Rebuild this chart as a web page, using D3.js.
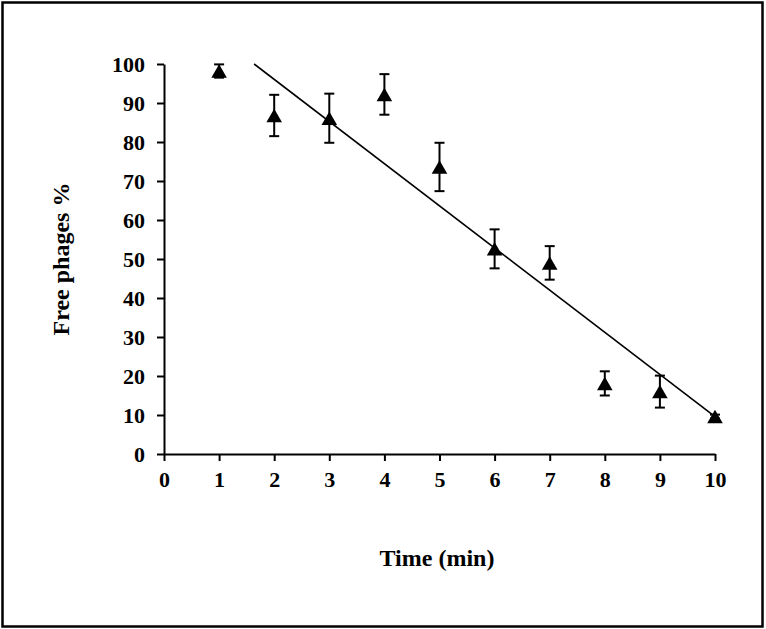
<!DOCTYPE html>
<html>
  <head>
    <meta charset="utf-8">
    <style>
body {
  margin: 0;
  background: #fff;
}
svg text {
  font-family: 'Liberation Serif', 'Times New Roman', serif;
  font-weight: bold;
}
.axis .domain, .axis line {
  stroke: #000;
  stroke-width: 2px;
}
.axis text {
  font-size: 22px;
  fill: #000;
}
</style>
    <title></title>
  </head>
  <body>
    <svg width="766" height="629"></svg>
    <script src="https://d3js.org/d3.v7.min.js"></script>
    <script>
// data
var times = [1, 2, 3, 4, 5, 6, 7, 8, 9, 10];
var freePhages = [98.2, 86.8, 86.1, 92.2, 73.6, 52.6, 49, 18.1, 16, 9.6];
var errors = [1.7, 5.3, 6.3, 5.2, 6.2, 5, 4.3, 3.1, 4.1, 0.5];
var xTicks = [0, 1, 2, 3, 4, 5, 6, 7, 8, 9, 10];
var yTicks = [0, 10, 20, 30, 40, 50, 60, 70, 80, 90, 100];

var svg = d3.select("svg"),
    margin = {top: 64, right: 51, bottom: 175, left: 164},
    width = +svg.attr("width") - margin.left - margin.right,
    height = +svg.attr("height") - margin.top - margin.bottom;

// outer frame
svg.append("rect")
    .attr("x", 2.5)
    .attr("y", 2.5)
    .attr("width", 760)
    .attr("height", 624)
    .attr("fill", "#fff")
    .attr("stroke", "#000")
    .attr("stroke-width", 2.5);

var g = svg.append("g").attr("transform", "translate(" + margin.left + "," + margin.top + ")");

var x = d3.scaleLinear().domain([0, 10]).range([0, width]);
var y = d3.scaleLinear().domain([0, 100]).range([height, 0]);

var data = times.map(function(t, i) {
  return {t: t, v: freePhages[i], e: errors[i]};
});

// axes
g.append("g")
    .attr("class", "axis")
    .attr("transform", "translate(0," + height + ")")
    .call(d3.axisBottom(x).tickValues(xTicks).tickSize(7).tickSizeOuter(0).tickPadding(7))
    .selectAll("text")
    .attr("dy", "0.85em");

g.append("g")
    .attr("class", "axis")
    .call(d3.axisLeft(y).tickValues(yTicks).tickSize(7).tickSizeOuter(0).tickPadding(12));

// linear trend line (least squares over the means), clipped at the top of the axis
var mx = d3.mean(times), my = d3.mean(freePhages);
var sxy = d3.sum(data, function(d) { return (d.t - mx) * (d.v - my); });
var sxx = d3.sum(data, function(d) { return (d.t - mx) * (d.t - mx); });
var slope = sxy / sxx, intercept = my - slope * mx;
var xStart = Math.max(0, (100 - intercept) / slope), xEnd = 10;

g.append("line")
    .attr("x1", x(xStart))
    .attr("y1", y(slope * xStart + intercept))
    .attr("x2", x(xEnd))
    .attr("y2", y(slope * xEnd + intercept))
    .attr("stroke", "#000")
    .attr("stroke-width", 1.6);

// error bars
var bars = g.append("g")
    .attr("stroke", "#000")
    .attr("stroke-width", 2)
  .selectAll("g")
  .data(data)
  .enter().append("g");

bars.append("line")
    .attr("x1", function(d) { return x(d.t); })
    .attr("x2", function(d) { return x(d.t); })
    .attr("y1", function(d) { return y(d.v + d.e); })
    .attr("y2", function(d) { return y(d.v - d.e); });

bars.append("line")
    .attr("x1", function(d) { return x(d.t) - 5; })
    .attr("x2", function(d) { return x(d.t) + 5; })
    .attr("y1", function(d) { return y(d.v + d.e); })
    .attr("y2", function(d) { return y(d.v + d.e); });

bars.append("line")
    .attr("x1", function(d) { return x(d.t) - 5; })
    .attr("x2", function(d) { return x(d.t) + 5; })
    .attr("y1", function(d) { return y(d.v - d.e); })
    .attr("y2", function(d) { return y(d.v - d.e); });

// triangle markers, box-centred on the value
var markerSize = 105;
var half = Math.sqrt(markerSize / (3 * Math.sqrt(3))) / 2;
g.append("g")
  .selectAll("path")
  .data(data)
  .enter().append("path")
    .attr("d", d3.symbol(d3.symbolTriangle, markerSize))
    .attr("transform", function(d) { return "translate(" + x(d.t) + "," + (y(d.v) + half) + ")"; })
    .attr("fill", "#000");

// axis titles
svg.append("text")
    .attr("x", 437)
    .attr("y", 566)
    .attr("text-anchor", "middle")
    .attr("font-size", 24)
    .text("Time (min)");

svg.append("text")
    .attr("transform", "translate(69,259) rotate(-90)")
    .attr("text-anchor", "middle")
    .attr("font-size", 24)
    .text("Free phages %");
</script>
  </body>
</html>
